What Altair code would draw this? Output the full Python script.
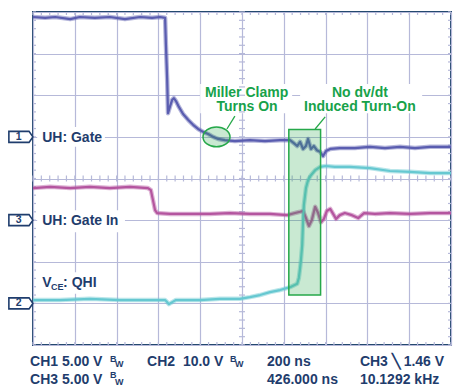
import altair as alt
import pandas as pd

# ---- data (time in divisions of 200 ns, level in vertical divisions) ----
ch1_t = [0, 0.29, 0.53, 0.89, 1.12, 1.48, 1.84, 2.20, 2.56, 2.85, 3.04, 3.16, 3.18, 3.21, 3.23,
         3.28, 3.33, 3.37, 3.42, 3.49, 3.59, 3.71, 3.83, 3.95, 4.07, 4.19, 4.31, 4.43, 4.59, 4.83,
         5.19, 5.55, 5.91, 6.15, 6.24, 6.32, 6.39, 6.46, 6.53, 6.58, 6.65, 6.72, 6.79, 6.87, 6.94,
         7.01, 7.11, 7.34, 7.70, 8.06, 8.42, 8.78, 9.14, 9.50, 10.0]
ch1_v = [7.88, 7.86, 7.88, 7.83, 7.88, 7.86, 7.88, 7.83, 7.88, 7.86, 7.88, 7.86, 7.21, 6.37, 5.57,
         5.74, 5.89, 5.93, 5.86, 5.72, 5.55, 5.41, 5.29, 5.19, 5.12, 5.07, 5.00, 4.95, 4.92, 4.90,
         4.92, 4.90, 4.92, 4.92, 4.85, 4.78, 4.88, 4.71, 4.78, 4.95, 4.71, 4.78, 4.68, 4.64, 4.54,
         4.66, 4.71, 4.73, 4.73, 4.76, 4.73, 4.76, 4.73, 4.76, 4.76]

ch3_t = [0, 0.41, 0.89, 1.36, 1.84, 2.32, 2.75, 2.82, 2.87, 2.92, 2.97, 3.28, 3.76, 4.23, 4.71,
         5.19, 5.67, 6.08, 6.27, 6.39, 6.46, 6.53, 6.60, 6.67, 6.75, 6.82, 6.89, 6.96, 7.03, 7.11,
         7.18, 7.25, 7.34, 7.46, 7.63, 7.78, 7.92, 8.18, 8.54, 9.02, 9.50, 10.0]
ch3_v = [3.77, 3.80, 3.77, 3.80, 3.77, 3.80, 3.77, 3.72, 3.48, 3.24, 3.17, 3.15, 3.15, 3.15, 3.17,
         3.15, 3.15, 3.12, 3.17, 3.20, 3.22, 3.05, 2.86, 3.00, 3.32, 3.17, 2.95, 3.03, 3.22, 3.27,
         3.15, 3.03, 3.12, 3.17, 3.12, 3.05, 3.17, 3.15, 3.17, 3.15, 3.17, 3.17]

ch2_t = [0, 0.65, 1.36, 2.08, 2.80, 3.16, 3.21, 3.25, 3.33, 3.42, 4.00, 4.47, 4.95, 5.19, 5.43,
         5.67, 5.91, 6.15, 6.32, 6.36, 6.39, 6.41, 6.44, 6.46, 6.48, 6.53, 6.58, 6.65, 6.75, 6.87,
         7.01, 7.22, 7.58, 8.06, 8.54, 9.02, 9.50, 10.0]
ch2_v = [1.08, 1.08, 1.11, 1.08, 1.08, 1.08, 1.03, 0.98, 1.03, 1.08, 1.08, 1.11, 1.11, 1.15, 1.20,
         1.27, 1.32, 1.39, 1.47, 1.61, 1.85, 2.04, 2.40, 2.95, 3.36, 3.77, 3.96, 4.08, 4.20, 4.28,
         4.30, 4.28, 4.28, 4.25, 4.18, 4.16, 4.13, 4.13]

marker_labels = ["1", "3", "2"]
marker_levels = [5.0, 3.0, 1.0]

minor_x = [i / 5 for i in range(51)]
minor_y = [i / 5 for i in range(41)]

NAVY = "#1f3d6d"
BORDER = "#24496f"
GRID = "#b6b9d9"
GREEN = "#26a84a"
GTEXT = "#17a24a"
C1 = "#5a5db0"
C2 = "#66c8d1"
C3 = "#b4559f"
FONT = "Liberation Sans"

xs = alt.Scale(domain=[0, 10], nice=False, zero=False)
ys = alt.Scale(domain=[0, 8], nice=False, zero=False)
xax = alt.Axis(values=list(range(11)), grid=True, gridColor=GRID, gridWidth=1.2,
               labels=False, ticks=False, domain=False, title=None)
yax = alt.Axis(values=list(range(9)), grid=True, gridColor=GRID, gridWidth=1.2,
               labels=False, ticks=False, domain=False, title=None)


def X(f):
    return alt.X(f, type="quantitative", scale=xs, axis=xax)


def Y(f):
    return alt.Y(f, type="quantitative", scale=ys, axis=yax)


traces = pd.concat([
    pd.DataFrame({"t": ch1_t, "v": ch1_v, "ch": "CH1"}),
    pd.DataFrame({"t": ch3_t, "v": ch3_v, "ch": "CH3"}),
    pd.DataFrame({"t": ch2_t, "v": ch2_v, "ch": "CH2"}),
])

layers = []

# white boxes behind labels
boxes = pd.DataFrame({
    "x0": [0.10, 0.10, 0.10, 4.00, 6.39],
    "x1": [1.72, 2.20, 1.72, 6.20, 9.31],
    "y0": [4.76, 2.71, 1.23, 5.57, 5.57],
    "y1": [5.24, 3.24, 1.75, 6.27, 6.27],
})
layers.append(alt.Chart(boxes).mark_rect(color="white").encode(
    x=X("x0"), x2="x1", y=Y("y0"), y2="y1"))

# minor ticks
mx = pd.DataFrame({"m": minor_x})
my = pd.DataFrame({"m": minor_y})
for a, b in [(0, 3), (330, 333), (163.5, 169.5)]:
    layers.append(alt.Chart(mx).mark_rule(color=GRID, strokeWidth=1.2).encode(
        x=X("m"), y=alt.value(a), y2=alt.value(b)))
for a, b in [(0, 3), (415, 418), (206, 212)]:
    layers.append(alt.Chart(my).mark_rule(color=GRID, strokeWidth=1.2).encode(
        y=Y("m"), x=alt.value(a), x2=alt.value(b)))

# traces (soft halo + core)
cscale = alt.Scale(domain=["CH1", "CH2", "CH3"], range=[C1, C2, C3])
layers.append(alt.Chart(traces).mark_line(strokeWidth=4.5, strokeJoin="round", opacity=0.45).encode(
    x=X("t"), y=Y("v"), color=alt.Color("ch:N", scale=cscale, legend=None), detail="ch:N"))
layers.append(alt.Chart(traces).mark_line(strokeWidth=2.2, strokeJoin="round").encode(
    x=X("t"), y=Y("v"), color=alt.Color("ch:N", scale=cscale, legend=None), detail="ch:N"))

# green highlight box
gbox = pd.DataFrame({"x0": [6.12], "x1": [6.88], "y0": [1.20], "y1": [5.18]})
layers.append(alt.Chart(gbox).mark_rect(fill=GREEN, fillOpacity=0.25, stroke=GREEN, strokeWidth=1.5).encode(
    x=X("x0"), x2="x1", y=Y("y0"), y2="y1"))

# ellipse
ell = pd.DataFrame({"x": [4.39], "y": [5.0]})
layers.append(alt.Chart(ell).mark_point(
    shape="M-1,0 A1,0.74 0 1,1 1,0 A1,0.74 0 1,1 -1,0 Z", size=729,
    filled=True, fill=GREEN, fillOpacity=0.25, stroke=GREEN, strokeWidth=1.5, opacity=1).encode(
    x=X("x"), y=Y("y")))

# leader lines
lead = pd.DataFrame({"x0": [4.64, 6.75], "x1": [4.83, 6.99], "y0": [5.19, 5.19], "y1": [5.50, 5.48]})
layers.append(alt.Chart(lead).mark_rule(color=GREEN, strokeWidth=1.3).encode(
    x=X("x0"), x2="x1", y=Y("y0"), y2="y1"))

# annotation text
ann = pd.DataFrame({
    "x": [5.11, 5.12, 7.82, 7.82],
    "y": [5.96, 5.62, 5.96, 5.62],
    "txt": ["Miller Clamp", "Turns On", "No dv/dt", "Induced Turn-On"],
})
layers.append(alt.Chart(ann).mark_text(font=FONT, fontSize=14, fontWeight="bold", color=GTEXT,
                                       align="center", baseline="alphabetic").encode(
    x=X("x"), y=Y("y"), text="txt:N"))

# channel labels
lab = pd.DataFrame({
    "x": [0.22, 0.22, 0.22, 0.72],
    "y": [4.88, 2.88, 1.39, 1.39],
    "txt": ["UH: Gate", "UH: Gate In", "V", ": QHI"],
})
layers.append(alt.Chart(lab).mark_text(font=FONT, fontSize=14, fontWeight="bold", color=NAVY,
                                       align="left", baseline="alphabetic").encode(
    x=X("x"), y=Y("y"), text="txt:N"))
sub = pd.DataFrame({"x": [0.43], "y": [1.32], "txt": ["CE"]})
layers.append(alt.Chart(sub).mark_text(font=FONT, fontSize=9, fontWeight="bold", color=NAVY,
                                       align="left", baseline="alphabetic").encode(
    x=X("x"), y=Y("y"), text="txt:N"))

# channel markers
mk = pd.DataFrame({"lab": marker_labels, "lvl": marker_levels, "x": [-0.29] * 3})
layers.append(alt.Chart(mk).mark_point(
    shape="M-1,-0.46 L0.68,-0.46 L1,0 L0.68,0.46 L-1,0.46 Z", size=576,
    filled=True, fill="white", stroke=NAVY, strokeWidth=1.6, opacity=1).encode(
    x=X("x"), y=Y("lvl")))
mk2 = pd.DataFrame({"lab": marker_labels, "lvl": marker_levels, "x": [-0.34] * 3})
layers.append(alt.Chart(mk2).mark_text(font=FONT, fontSize=10.5, fontWeight="bold", color=NAVY,
                                       align="center", baseline="middle").encode(
    x=X("x"), y=Y("lvl"), text="lab:N"))

# readout
ro = pd.DataFrame({
    "x": [-0.07, 2.73, 5.60, 7.82, -0.07, 5.60, 7.82],
    "y": [-0.50, -0.50, -0.50, -0.50, -0.94, -0.94, -0.94],
    "txt": ["CH1 5.00 V", "CH2\u00a0 10.0 V", "200 ns", "CH3 \u2572 1.46 V",
            "CH3 5.00 V", "426.000 ns", "10.1292 kHz"],
})
layers.append(alt.Chart(ro).mark_text(font=FONT, fontSize=14, fontWeight="bold", color=NAVY,
                                      align="left", baseline="alphabetic").encode(
    x=X("x"), y=Y("y"), text="txt:N"))
bw = pd.DataFrame({
    "x": [1.84, 1.96, 4.71, 4.83, 1.84, 1.96],
    "y": [-0.41, -0.53, -0.41, -0.53, -0.79, -0.96],
    "txt": ["B", "W", "B", "W", "B", "W"],
})
layers.append(alt.Chart(bw).mark_text(font=FONT, fontSize=9, fontWeight="bold", color=NAVY,
                                      align="left", baseline="alphabetic").encode(
    x=X("x"), y=Y("y"), text="txt:N"))

chart = alt.layer(*layers).properties(
    width=418, height=333,
    padding={"left": 25, "top": 4, "right": 11, "bottom": 44},
    autosize="none",
    background="white",
).configure_view(stroke=BORDER, strokeWidth=2)

chart.save("out.html", embed_options={"renderer": "svg", "actions": False})
